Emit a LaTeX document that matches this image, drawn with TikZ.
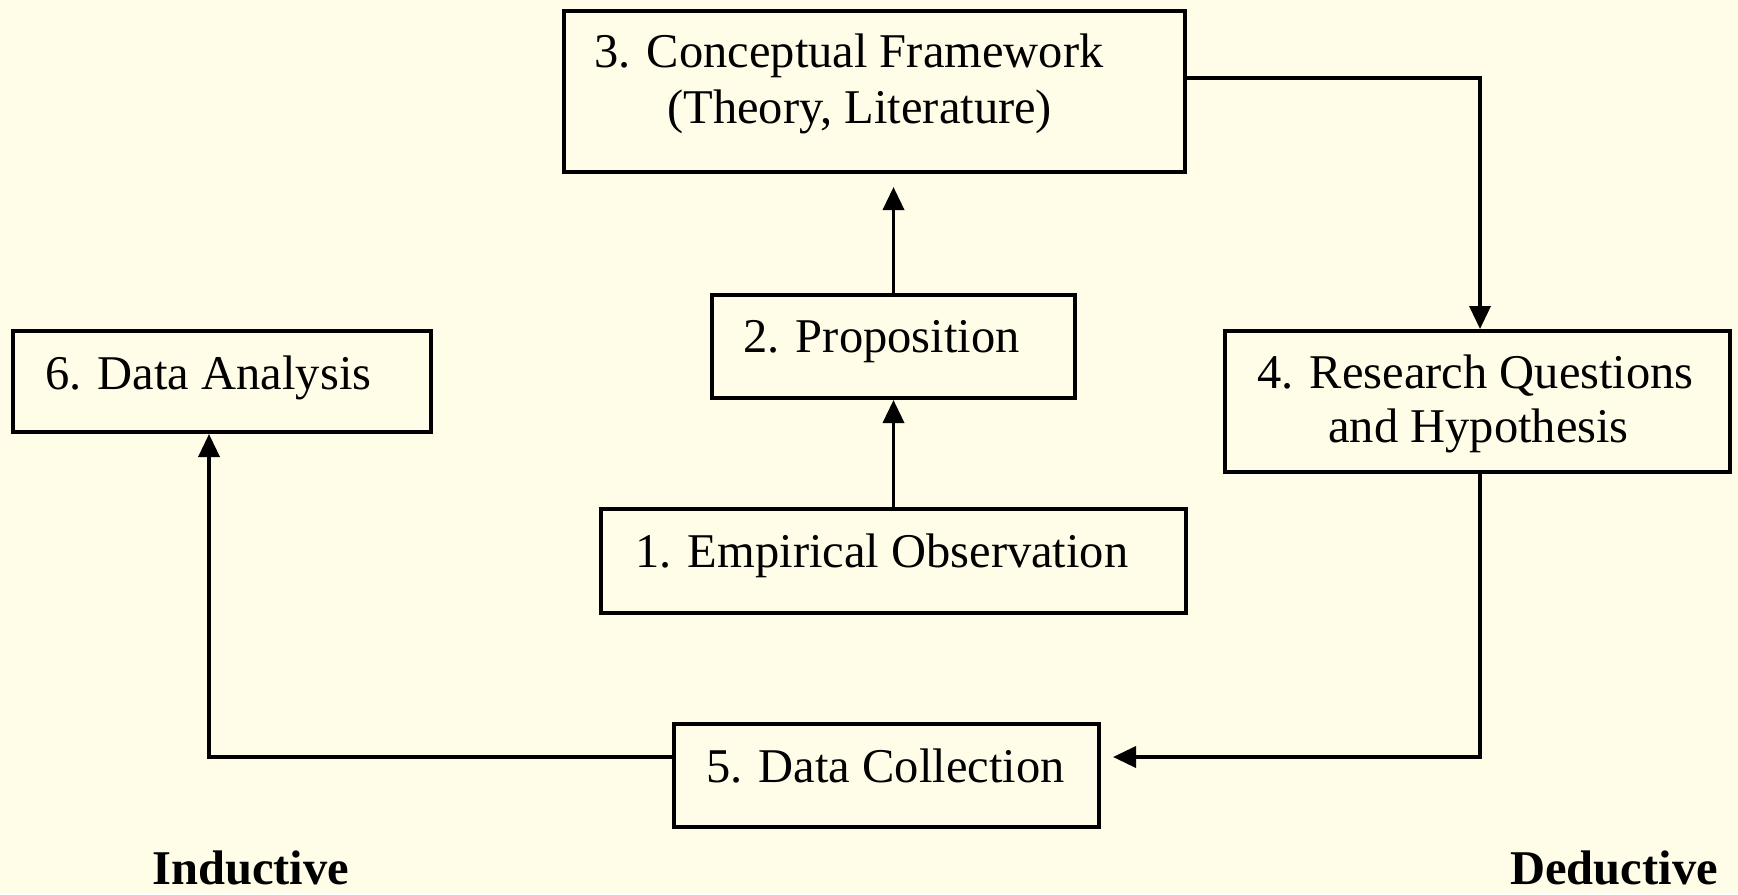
\documentclass[tikz,border=0pt]{standalone}
\usepackage{fontspec}
\setmainfont{Liberation Serif}
\usetikzlibrary{arrows.meta}
\definecolor{bgcream}{RGB}{255,252,232}
\tikzset{
  box/.style={draw=black, line width=2pt, fill=bgcream, inner sep=0pt},
  txt/.style={inner sep=0pt, anchor=base west, font=\fontsize{24.25pt}{28pt}\selectfont},
  boldtxt/.style={txt, font=\fontsize{24.25pt}{28pt}\selectfont\bfseries},
  conn/.style={draw=black, line width=1.8pt, -{Triangle[length=11.5pt,width=10.5pt]}}
}
\begin{document}
\begin{tikzpicture}[x=0.5pt, y=-0.5pt]
  \fill[bgcream] (0,0) rectangle (1738,894);
  \useasboundingbox (0,0) rectangle (1738,894);

  % boxes
  \node[box, minimum width=310.5pt, minimum height=80.5pt] (b3) at (874.5,91.5) {};
  \node[box, minimum width=181.5pt, minimum height=51.5pt] (b2) at (893.5,346.5) {};
  \node[box, minimum width=292.5pt, minimum height=52pt]   (b1) at (893.5,561) {};
  \node[box, minimum width=212.5pt, minimum height=51.5pt] (b5) at (886.5,775.5) {};
  \node[box, minimum width=209pt,   minimum height=50.5pt] (b6) at (222,381.5) {};
  \node[box, minimum width=252.5pt, minimum height=70.5pt] (b4) at (1477.5,401.5) {};

  % texts
  \node[txt] (t3a) at (594,67)  {3. Conceptual Framework};
  \node[txt] (t3b) at (667,123) {(Theory, Literature)};
  \node[txt] (t2)  at (743,352) {2. Proposition};
  \node[txt] (t1)  at (635,567) {1. Empirical Observation};
  \node[txt] (t5)  at (706,782) {5. Data Collection};
  \node[txt] (t6)  at (45,389)  {6. Data Analysis};
  \node[txt] (t4a) at (1257,388) {4. Research Questions};
  \node[txt] (t4b) at (1328,442) {and Hypothesis};
  \node[boldtxt] (ind) at (152,884)  {Inductive};
  \node[boldtxt] (ded) at (1510,884) {Deductive};

  % connectors
  \draw[conn] (b1.north) -- (b2.south);
  \draw[conn, shorten >=6.5pt] (b2.north) -- (b2.north |- b3.south);
  \draw[conn] ([yshift=6.75pt]b3.east) -| ([xshift=1.25pt]b4.north);
  \draw[conn] ([xshift=1.25pt]b4.south) |- ([xshift=6pt,yshift=9.25pt]b5.east);
  \draw[conn] ([yshift=9.25pt]b5.west) -| ([xshift=-6.5pt]b6.south);
\end{tikzpicture}
\end{document}
